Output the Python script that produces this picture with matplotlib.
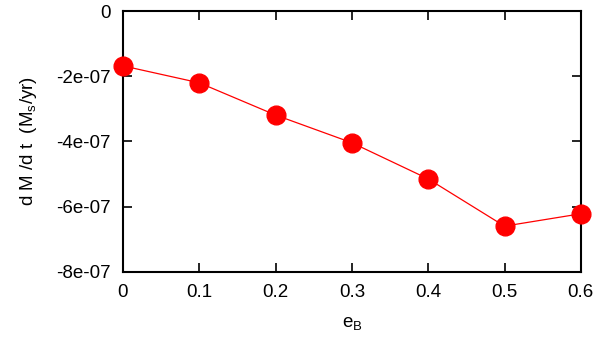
import matplotlib
matplotlib.use("Agg")
import matplotlib.pyplot as plt
from matplotlib.ticker import FuncFormatter

plt.rcParams['font.family'] = ['Liberation Sans', 'DejaVu Sans']
plt.rcParams['mathtext.fontset'] = 'custom'
plt.rcParams['mathtext.rm'] = 'Liberation Sans'
plt.rcParams['mathtext.it'] = 'Liberation Sans'

# eccentricity vs mass loss rate
e_B = [0.0, 0.1, 0.2, 0.3, 0.4, 0.5, 0.6]
dMdt = [-1.68e-07, -2.20e-07, -3.19e-07, -4.04e-07, -5.15e-07, -6.60e-07, -6.22e-07]
y_ticks = [0, -2e-07, -4e-07, -6e-07, -8e-07]
x_ticks = [0, 0.1, 0.2, 0.3, 0.4, 0.5, 0.6]


def fmt_y(v, pos):
    if abs(v) < 1e-12:
        return "0"
    m, ex = f"{v:.0e}".split("e")
    return f"{m}e{ex[0]}{ex[1:].zfill(2)}"


fig = plt.figure(figsize=(6, 3.38), dpi=100)
ax = fig.add_axes([0.205, 0.196, 0.763, 0.771])

ax.plot(e_B, dMdt, color='red', linewidth=0.9, marker='o', markersize=13.5,
        markerfacecolor='red', markeredgecolor='red', clip_on=False, zorder=3)

ax.set_xlim(0, 0.6)
ax.set_ylim(-8e-07, 0)
ax.set_xticks(x_ticks)
ax.set_yticks(y_ticks)
ax.xaxis.set_major_formatter(FuncFormatter(lambda v, p: "0" if v == 0 else f"{v:g}"))
ax.yaxis.set_major_formatter(FuncFormatter(fmt_y))

ax.tick_params(direction='in', length=6.5, width=1.2, top=True, right=True,
               labelsize=13.5, pad=9)
for s in ax.spines.values():
    s.set_linewidth(1.5)

ax.set_xlabel(r'e$_\mathregular{B}$', fontsize=13.5, labelpad=10)
ax.set_ylabel(r'd M /d t  (M$_\mathregular{s}$/yr)', fontsize=13.5, labelpad=12)

fig.savefig("out.png", dpi=100)
